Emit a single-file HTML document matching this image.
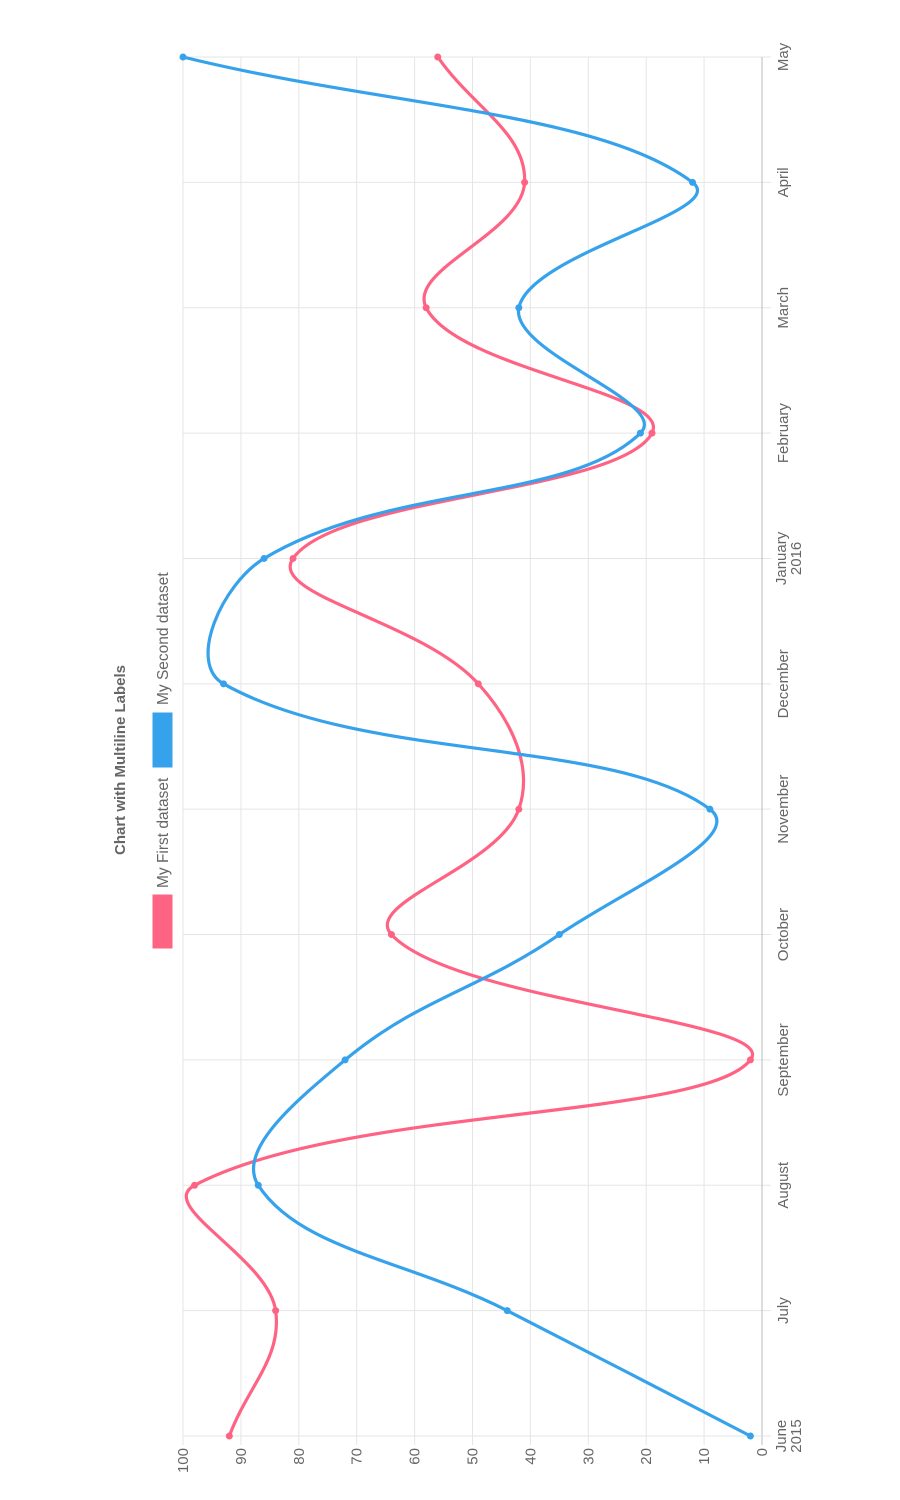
<!DOCTYPE html>
<html><head><meta charset="utf-8"><style>
html,body{margin:0;padding:0;background:#fff;}
svg{display:block;font-family:"Liberation Sans",sans-serif;}
</style></head><body>
<svg id="chart" width="900" height="1500">
<g id="grid"></g>
<g id="labels"></g>
<g id="series"></g>
<text transform="translate(125,760) rotate(-90)" text-anchor="middle" font-size="15" font-weight="bold" fill="#666">Chart with Multiline Labels</text>
<g>
<rect x="153" y="895" width="19" height="53" fill="#ff6384" stroke="#ff6384"/>
<text transform="translate(168,888) rotate(-90)" font-size="15.5" fill="#666">My First dataset</text>
</g>
<g>
<rect x="153" y="713" width="19" height="54" fill="#36a2eb" stroke="#36a2eb"/>
<text transform="translate(168,705) rotate(-90)" font-size="15.5" fill="#666">My Second dataset</text>
</g>
</svg>
<script>
const categories=[["June","2015"],["July"],["August"],["September"],["October"],["November"],["December"],["January","2016"],["February"],["March"],["April"],["May"]];
const firstValues=[92,84,98,2,64,42,49,81,19,58,41,56];
const secondValues=[2,44,87,72,35,9,93,86,21,42,12,100];
const valueTicks=[0,10,20,30,40,50,60,70,80,90,100];
const NS="http://www.w3.org/2000/svg";
const X0=762,X100=183,Y0=1436,Y1=57;
function vx(v){return X0+(X100-X0)*v/100;}
function cy(i){return Y0+(Y1-Y0)*i/(categories.length-1);}
function mk(tag,attrs,parent){const e=document.createElementNS(NS,tag);for(const k in attrs)e.setAttribute(k,attrs[k]);parent.appendChild(e);return e;}
const grid=document.getElementById('grid'),labels=document.getElementById('labels'),series=document.getElementById('series');
valueTicks.forEach(v=>{
  const l=mk('line',{x1:vx(v),x2:vx(v),y1:Y1,y2:Y0+9,stroke:v===0?'#bbb':'#e5e5e5','stroke-width':1},grid);
  
  
  const t=mk('text',{transform:`translate(${vx(v)+5},${Y0+12}) rotate(-90)`,'text-anchor':'end','font-size':15,fill:'#666'},labels);
  t.textContent=v;
  
  
});
categories.forEach((c,i)=>{
  const y=cy(i);
  const l=mk('line',{x1:X100,x2:X0+9,y1:y,y2:y,stroke:'#e5e5e5','stroke-width':1},grid);
  
  
  c.forEach((line,j)=>{
    const x=c.length===1?788:786+j*15;
    const t=mk('text',{transform:`translate(${x},${y}) rotate(-90)`,'text-anchor':'middle','font-size':15,fill:'#666'},labels);
    t.textContent=line;
    
    
  });
});
mk('line',{x1:X0,x2:X0,y1:Y1,y2:Y0,stroke:'#bbb'},grid);
function path(vals){
  const p=vals.map((v,i)=>({x:vx(v),y:cy(i)}));const t=0.4;
  const cps=p.map((cur,i)=>{
    const prev=p[i-1]||cur,next=p[i+1]||cur;
    const d01=Math.hypot(cur.x-prev.x,cur.y-prev.y),d12=Math.hypot(next.x-cur.x,next.y-cur.y);
    let s01=d01/(d01+d12||1),s12=d12/(d01+d12||1);
    const fa=t*s01,fb=t*s12;
    return {p:{x:cur.x-fa*(next.x-prev.x),y:cur.y-fa*(next.y-prev.y)},n:{x:cur.x+fb*(next.x-prev.x),y:cur.y+fb*(next.y-prev.y)}};
  });
  let d=`M${p[0].x},${p[0].y}`;
  for(let i=1;i<p.length;i++)d+=` C${cps[i-1].n.x},${cps[i-1].n.y} ${cps[i].p.x},${cps[i].p.y} ${p[i].x},${p[i].y}`;
  return {d,p};
}
[[firstValues,'#ff6384','first'],[secondValues,'#36a2eb','second']].forEach(([vals,col,nm])=>{
  const r=path(vals);
  const pl=mk('path',{d:r.d,fill:'none',stroke:col,'stroke-width':3.2},series);
  
  
  r.p.forEach(pt=>{
    const c=mk('circle',{cx:pt.x,cy:pt.y,r:3.5,fill:col},series);
    
    
  });
});
</script>
</body></html>
